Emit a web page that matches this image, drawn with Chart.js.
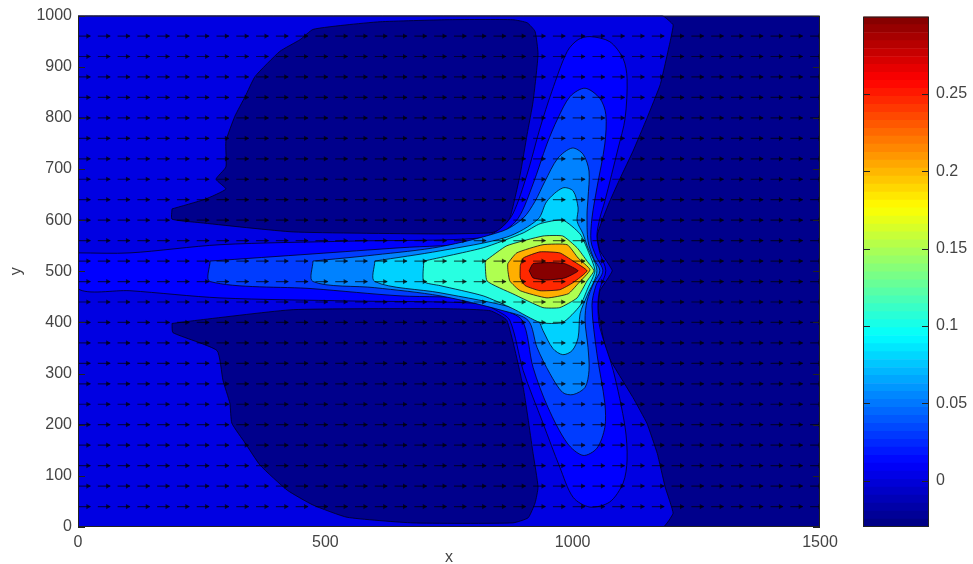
<!DOCTYPE html>
<html>
<head>
<meta charset="utf-8">
<title>contour</title>
<script src="https://cdn.jsdelivr.net/npm/chart.js@4/dist/chart.umd.min.js"></script>
<style>
  html, body { margin: 0; padding: 0; background: #fff; }
  canvas { position: absolute; top: 0; filter: blur(0.6px); }
  #myChart { left: 0; }
  #myColorbar { left: 850px; }
</style>
</head>
<body>
<canvas id="myChart" width="850" height="564"></canvas>
<canvas id="myColorbar" width="123" height="564"></canvas>
<script>
// contour regions (x, y in plot units)
const fullX = [0, 1500, 1500, 0];
const fullY = [0, 0, 1000, 1000];

const outerX = [0,1181,1203,1197,1177,1150,1122,1096,1075,1059,1049,1055,1080,1055,1051,1069,1122,1150,1171,1187,1203,1183,0];
const outerY = [1000,1000,982,949,865,799,735,682,637,598,569,540,501,462,427,339,253,203,144,78,27,0,0];

const topBlobX = [190,257,299,279,299,299,317,338,358,408,449,475,544,611,746,879,908,924,930,920,908,894,873,853,833,732,435,247,190];
const topBlobY = [622,641,661,680,704,754,803,842,881,930,953,973,982,988,992,992,986,969,924,832,768,690,604,581,575,573,577,595,602];

const bottomBlobX = [190,247,435,732,833,867,900,920,930,924,910,879,677,544,475,423,368,338,311,307,293,281,192];
const bottomBlobY = [398,405,425,427,423,404,273,144,78,47,18,8,8,19,43,72,121,164,203,242,287,345,380];

const levelAX = [0,105,287,550,813,853,879,908,934,958,989,1011,1035,1075,1102,1110,1106,1092,1065,1055,1049,1055,1067,1055,1051,1055,1082,1106,1110,1102,1075,1035,1001,974,940,900,873,847,813,550,287,105,0];
const levelAY = [536,536,552,559,565,583,612,690,780,852,930,953,959,949,916,877,799,741,637,604,569,536,501,466,433,390,306,195,131,86,49,39,58,117,203,306,404,423,437,442,448,462,466];

const levelBX = [267,475,651,813,853,890,920,948,970,995,1025,1055,1067,1065,1049,1039,1037,1047,1061,1047,1039,1049,1065,1065,1049,1021,989,950,920,898,853,813,651,475,267];
const levelBY = [520,534,546,556,573,604,671,749,799,842,858,838,807,749,663,604,559,530,501,472,433,339,242,195,154,140,164,234,312,404,427,446,452,466,480];

const levelCX = [475,600,732,859,900,924,944,970,999,1021,1033,1031,1029,1031,1043,1055,1043,1029,1025,1031,1033,1025,1001,980,954,928,910,859,732,600,475];
const levelCY = [520,532,548,579,604,637,676,721,741,729,696,643,612,559,524,501,478,442,404,351,306,273,259,263,300,351,404,423,452,468,480];

const levelDX = [600,732,867,930,948,980,1001,1011,1009,1021,1029,1049,1029,1015,1011,999,980,960,940,930,887,732,600];
const levelDY = [520,540,567,602,637,663,657,624,598,573,550,501,452,417,370,345,337,349,384,404,427,458,480];

const levelEX = [699,819,900,934,980,1015,1031,1045,1031,1015,980,934,879,819,732,699];
const levelEY = [520,546,575,593,600,573,540,501,468,433,400,400,427,452,472,480];

const levelFX = [823,867,940,980,1009,1029,1043,1029,1009,974,940,879,827];
const levelFY = [520,550,569,569,546,520,501,481,448,429,429,456,481];

const levelGX = [869,869,887,940,989,1011,1035,1011,991,948,894,873];
const levelGY = [501,515,536,552,552,526,503,476,456,448,462,481];

const levelHX = [894,900,934,974,1001,1029,1001,974,934,904,894];
const levelHY = [511,526,538,536,520,501,478,464,462,472,487];

const levelIX = [912,920,954,984,1011,984,948,920];
const levelIY = [501,515,517,515,501,487,483,487];

// quiver grid
const arrowStartX = [0,40,80,120,160,200,240,280,320,360,400,440,480,520,560,600,640,680,720,760,800,840,880,920,960,1000,1040,1080,1120,1160,1200,1240,1280,1320,1360,1400,1440,1480];
const arrowRowY = [40,80,120,160,200,240,280,320,360,400,440,480,520,560,600,640,680,720,760,800,840,880,920,960];
const arrowLength = 25;

// colorbar
const colorbarEdges = [-0.03,-0.0248,-0.0197,-0.0145,-0.0094,-0.0042,0.0009,0.0061,0.0113,0.0164,0.0216,0.0267,0.0319,0.037,0.0422,0.0473,0.0525,0.0577,0.0628,0.068,0.0731,0.0783,0.0834,0.0886,0.0938,0.0989,0.1041,0.1092,0.1144,0.1195,0.1247,0.1298,0.135,0.1402,0.1453,0.1505,0.1556,0.1608,0.1659,0.1711,0.1763,0.1814,0.1866,0.1917,0.1969,0.202,0.2072,0.2123,0.2175,0.2227,0.2278,0.233,0.2381,0.2433,0.2484,0.2536,0.2588,0.2639,0.2691,0.2742,0.2794,0.2845,0.2897,0.2948,0.3];
const colorbarTicks = [0, 0.05, 0.1, 0.15, 0.2, 0.25];
const xTicks = [0, 500, 1000, 1500];
const yTicks = [0, 100, 200, 300, 400, 500, 600, 700, 800, 900, 1000];

const fontStyle = { family: '"Liberation Sans"', size: 16 };
const textColor = '#444';

//polygon from two arrays, closed back on the first point
function toPoints(xs, ys) {
  const pts = xs.map((x, i) => ({ x: x, y: ys[i] }));
  pts.push({ x: xs[0], y: ys[0] });
  return pts;
}

function region(xs, ys, color, lineWidth, tension) {
  return {
    data: toPoints(xs, ys),
    showLine: true,
    fill: 'shape',
    backgroundColor: color,
    borderColor: lineWidth ? 'rgba(0,0,20,0.75)' : color,
    borderWidth: lineWidth,
    pointRadius: 0,
    tension: tension
  };
}

// matlab jet
function jet(t) {
  const c = v => Math.round(255 * Math.max(0, Math.min(1, v)));
  return 'rgb(' + c(1.5 - Math.abs(4 * t - 3)) + ',' + c(1.5 - Math.abs(4 * t - 2)) + ',' + c(1.5 - Math.abs(4 * t - 1)) + ')';
}

//box and inner ticks, matlab style
const frameTicks = {
  id: 'frameTicks',
  afterDraw(chart) {
    const ctx = chart.ctx;
    const a = chart.chartArea;
    ctx.save();
    ctx.strokeStyle = '#222';
    ctx.lineWidth = 1;
    ctx.beginPath();
    ctx.rect(a.left + 0.5, a.top + 0.5, a.width - 1, a.height - 1);
    chart.scales.y.ticks.forEach(t => {
      const p = Math.round(chart.scales.y.getPixelForValue(t.value)) + 0.5;
      ctx.moveTo(a.left, p); ctx.lineTo(a.left + 7, p);
      ctx.moveTo(a.right - 7, p); ctx.lineTo(a.right, p);
    });
    ctx.stroke();
    ctx.restore();
  }
};

function create_Contour_Chart() {
  const datasets = [
    region(fullX, fullY, 'rgb(0,0,140)', 0, 0),
    region(outerX, outerY, 'rgb(0,0,226)', 1, 0.1),
    region(topBlobX, topBlobY, 'rgb(0,0,140)', 1, 0.15),
    region(bottomBlobX, bottomBlobY, 'rgb(0,0,140)', 1, 0.15),
    region(levelAX, levelAY, 'rgb(0,0,255)', 1, 0.3),
    region(levelBX, levelBY, 'rgb(0,60,255)', 1, 0.3),
    region(levelCX, levelCY, 'rgb(0,130,255)', 1, 0.3),
    region(levelDX, levelDY, 'rgb(0,210,255)', 1, 0.3),
    region(levelEX, levelEY, 'rgb(40,255,225)', 1, 0.2),
    region(levelFX, levelFY, 'rgb(175,255,80)', 1, 0.15),
    region(levelGX, levelGY, 'rgb(255,175,0)', 1, 0.15),
    region(levelHX, levelHY, 'rgb(255,40,0)', 1, 0.15),
    region(levelIX, levelIY, 'rgb(135,0,0)', 1, 0.15)
  ];

  const shafts = [];
  const heads = [];
  arrowRowY.forEach(y => {
    arrowStartX.forEach(x => {
      shafts.push({ x: x, y: y }, { x: x + arrowLength, y: y }, { x: null, y: null });
      heads.push({ x: x + arrowLength - 5, y: y });
    });
  });
  datasets.push({ data: shafts, showLine: true, borderColor: 'rgba(0,0,0,0.6)', borderWidth: 1.2, pointRadius: 0, spanGaps: false });
  datasets.push({ data: heads, pointStyle: 'triangle', rotation: 90, radius: 3, backgroundColor: 'rgba(0,0,0,0.7)', borderWidth: 0 });

  // first entry has to paint first, so highest order first
  datasets.forEach((d, i) => { d.order = datasets.length - i; });

  new Chart(document.getElementById('myChart').getContext('2d'), {
    type: 'scatter',
    data: { datasets: datasets },
    plugins: [frameTicks],
    options: {
      responsive: false,
      animation: false,
      layout: { padding: { top: 13, right: 30, left: 0, bottom: 0 } },
      plugins: { legend: { display: false }, tooltip: { enabled: false } },
      scales: {
        x: {
          type: 'linear', min: 0, max: 1500,
          grid: { display: false, drawTicks: false },
          border: { display: false },
          afterBuildTicks: s => { s.ticks = xTicks.map(v => ({ value: v })); },
          afterFit: s => { s.height = 37; },
          ticks: { color: textColor, font: fontStyle, padding: 6, maxRotation: 0, autoSkip: false, callback: v => String(v) },
          title: { display: true, text: 'x', color: textColor, font: fontStyle, padding: { top: 0, bottom: -3 } }
        },
        y: {
          type: 'linear', min: 0, max: 1000,
          grid: { display: false, drawTicks: false },
          border: { display: false },
          afterBuildTicks: s => { s.ticks = yTicks.map(v => ({ value: v })); },
          afterFit: s => { s.width = 78; },
          ticks: { color: textColor, font: fontStyle, padding: 6, autoSkip: false, callback: v => String(v) },
          title: { display: true, text: 'y', color: textColor, font: fontStyle, padding: { top: 7, bottom: 0 } }
        }
      }
    }
  });
}

function create_Colorbar() {
  const n = colorbarEdges.length - 1;
  const datasets = [];
  for (let i = 0; i < n; i++) {
    datasets.push({
      data: [[colorbarEdges[i], colorbarEdges[i + 1]]],
      backgroundColor: jet((i + 0.5) / n),
      borderWidth: 0,
      grouped: false,
      barPercentage: 1,
      categoryPercentage: 1
    });
  }
  new Chart(document.getElementById('myColorbar').getContext('2d'), {
    type: 'bar',
    data: { labels: [''], datasets: datasets },
    plugins: [frameTicks],
    options: {
      responsive: false,
      animation: false,
      layout: { padding: { top: 13, left: 13, right: 0, bottom: 37 } },
      plugins: { legend: { display: false }, tooltip: { enabled: false } },
      scales: {
        x: { display: false },
        y: {
          position: 'right',
          min: -0.03, max: 0.3,
          grid: { display: false, drawTicks: false },
          border: { display: false },
          afterBuildTicks: s => { s.ticks = colorbarTicks.map(v => ({ value: v })); },
          afterFit: s => { s.width = 44; },
          ticks: { color: textColor, font: fontStyle, padding: 7, autoSkip: false, callback: v => String(v) }
        }
      }
    }
  });
}

create_Contour_Chart();
create_Colorbar();
</script>
</body>
</html>
